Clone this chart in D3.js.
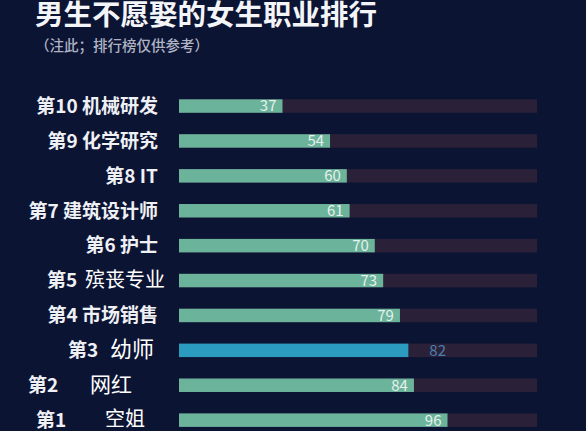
<!DOCTYPE html>
<html><head><meta charset="utf-8">
<script src="https://cdn.jsdelivr.net/npm/d3@7"></script>
<style>
html,body{margin:0;padding:0;background:#0c1434;}
svg{display:block;}
</style></head>
<body>
<svg id="c" width="586" height="431"></svg>
<script>
const title = "男生不愿娶的女生职业排行";
const subtitle = "（注此；排行榜仅供参考）";
const ranks = ["第10","第9","第8","第7","第6","第5","第4","第3","第2","第1"];
const jobs = ["机械研发","化学研究","IT","建筑设计师","护士","殡丧专业","市场销售","幼师","网红","空姐"];
const values = [37,54,60,61,70,73,79,82,84,96];
const trackMax = 128;
const highlight = "第3";

const svg = d3.select("#c");
const W = 586, H = 431;
svg.append("rect").attr("width",W).attr("height",H).attr("fill","#0c1434");

const FONT = "'Noto Sans CJK SC','Noto Sans',sans-serif";

svg.append("text").attr("x",35).attr("y",25)
  .attr("font-family",FONT).attr("font-weight",700).attr("font-size",28.5)
  .attr("fill","#f4f5f8").text(title);
svg.append("text").attr("x",35).attr("y",51)
  .attr("font-family",FONT).attr("font-weight",500).attr("font-size",14.5)
  .attr("fill","#aeb3c4").text(subtitle);

const x = d3.scaleLinear().domain([0,trackMax]).range([179,537]);
const y = d3.scaleBand().domain(ranks).range([88.6,437.6]).paddingInner(0.614).paddingOuter(0.307);

const rows = ranks.map((r,i)=>({rank:r, job:jobs[i], v:values[i]}));

const g = svg.append("g");
g.selectAll("rect.track").data(rows).join("rect").attr("class","track")
  .attr("x",x(0)).attr("y",d=>y(d.rank)).attr("width",x(trackMax)-x(0)).attr("height",y.bandwidth())
  .attr("fill","#2a2138");
g.selectAll("rect.bar").data(rows).join("rect").attr("class","bar")
  .attr("x",x(0)).attr("y",d=>y(d.rank)).attr("width",d=>x(d.v)-x(0)).attr("height",y.bandwidth())
  .attr("fill",d=>d.rank===highlight?"#2b9bbf":"#6cb39b");

g.selectAll("text.val").data(rows).join("text").attr("class","val")
  .attr("x",d=>d.rank===highlight? x(d.v)+21 : x(d.v)-6)
  .attr("y",d=>y(d.rank)+y.bandwidth()/2)
  .attr("dy","0.36em")
  .attr("text-anchor",d=>d.rank===highlight?"start":"end")
  .attr("font-family",FONT).attr("font-size",15)
  .attr("fill",d=>d.rank===highlight?"#4a7eae":"#e4f1ec")
  .text(d=>d.v);

const cy = d => y(d.rank)+y.bandwidth()/2;
const special = {
  "第5": {rx:47, jx:85, js:20},
  "第3": {rx:68, jx:110, js:22},
  "第2": {rx:28, jx:90, js:21},
  "第1": {rx:36, jx:105, js:20}
};
rows.forEach(d=>{
  const s = special[d.rank];
  if(!s){
    svg.append("text").attr("x",158).attr("y",cy(d)).attr("dy","0.36em")
      .attr("text-anchor","end").attr("font-family",FONT).attr("font-weight",700)
      .attr("font-size",19).attr("fill","#eef0f4")
      .text(d.rank+" "+d.job);
  } else {
    svg.append("text").attr("x",s.rx).attr("y",cy(d)).attr("dy","0.36em")
      .attr("font-family",FONT).attr("font-weight",700)
      .attr("font-size",19).attr("fill","#eef0f4").text(d.rank);
    svg.append("text").attr("x",s.jx).attr("y",cy(d)-1).attr("dy","0.36em")
      .attr("font-family",FONT).attr("font-weight",400)
      .attr("font-size",s.js).attr("fill","#ffffff").text(d.job);
  }
});
</script>
</body></html>
